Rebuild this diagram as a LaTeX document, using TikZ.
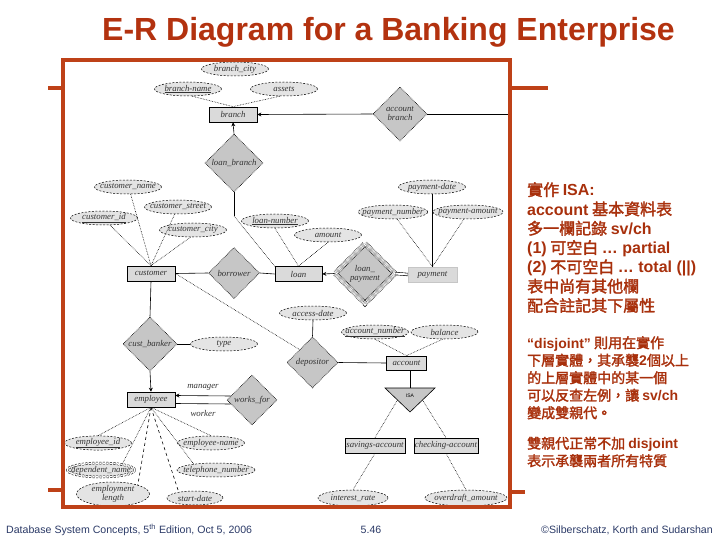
\documentclass[tikz,border=0pt]{standalone}
\usepackage{fontspec}
\newfontfamily\arial{Liberation Sans}
\newfontfamily\erfont{Liberation Serif}
\newfontfamily\cjk[FakeBold=2]{Noto Sans CJK TC}
\newcommand\lat[1]{{\arial\bfseries #1}}
\usetikzlibrary{shapes.geometric,arrows.meta,calc}
\definecolor{frameRed}{HTML}{BE4118}
\definecolor{titleRed}{HTML}{B3320F}
\definecolor{noteRed}{HTML}{A8300C}
\definecolor{footBlue}{HTML}{2B3A67}
\definecolor{entfill}{HTML}{DADADA}
\definecolor{relfill}{HTML}{C6C6C6}
\definecolor{attfill}{HTML}{E4E4E4}
\tikzset{
  er/.style={font=\erfont\itshape\fontsize{8.8}{9}\selectfont, text=black!80, inner sep=0pt, align=center},
  ent/.style={er, rectangle, draw, fill=entfill, line width=0.7pt, minimum width=48pt, minimum height=15pt},
  rel/.style={er, diamond, draw, densely dotted, fill=relfill, line width=0.6pt, aspect=1},
  attr/.style={er, ellipse, draw, fill=attfill, line width=0.5pt, dash pattern=on 2pt off 1.5pt, minimum width=67pt, minimum height=14pt, inner xsep=-6pt},
  ln/.style={line width=0.6pt},
  dl/.style={line width=0.6pt, densely dotted},
  tip/.style={-{Stealth[length=4pt,width=4pt]}, line width=0.6pt},
  note/.style={text=noteRed, anchor=north west, align=left, inner sep=0pt},
  foot/.style={text=footBlue, font=\arial\fontsize{10.6}{12}\selectfont, inner sep=0pt}
}
\begin{document}
\begin{tikzpicture}[x=1pt,y=-1pt]
\useasboundingbox (0,0) rectangle (720,540);
% title
\node (title) [text=titleRed, font=\arial\bfseries\fontsize{32}{36}\selectfont] at (388.5,32) {E-R Diagram for a Banking Enterprise};

% branch
\node[attr] (bcity) at (235,69) {branch\_city};
\node[attr] (bname) at (188,89) {\underline{branch-name}};
\node[attr] (assets) at (284,89) {assets};
\node[ent] (branch) at (233,114.5) {branch};
\node[rel, minimum size=54pt] (acctbr) at (400,114) {account\\branch};
\node[rel, minimum size=58pt] (loanbr) at (234,163) {loan\_branch};
\coordinate (acctR) at (508,114);
\coordinate (lbk) at (234,216);

% customer and loan
\node[attr] (cname) at (128,187) {customer\_name};
\node[attr] (cstreet) at (178,207) {customer\_street};
\node[attr] (cid) at (104,218) {\underline{customer\_id}};
\node[attr] (ccity) at (193,230) {customer\_city};
\node[ent] (customer) at (151,273.5) {customer};
\node[rel, minimum size=51pt] (borrower) at (234,273) {borrower};
\node[attr] (lnum) at (275,221) {\underline{loan-number}};
\node[attr] (amount) at (328,235) {amount};
\node[ent, minimum width=47pt] (loan) at (298.5,274) {loan};
\node[rel, minimum size=60pt, double, double distance=4pt] (lpay) at (365,273.5) {loan\_\\payment};
\node[ent, draw=gray!45, minimum width=49pt] (payment) at (432.5,274.5) {payment};
\node[attr] (pdate) at (432,187) {payment-date};
\node[attr] (pnum) at (393,212) {payment\_number};
\node[attr, minimum width=70pt] (pamt) at (468,212) {payment-amount};

% account
\node[attr] (adate) at (313,313) {access-date};
\node[rel, minimum size=51pt] (depositor) at (312.5,362.5) {depositor};
\node[attr] (anum) at (375,332) {\underline{account\_number}};
\node[attr] (balance) at (444.5,332) {balance};
\node[ent, minimum width=40pt, minimum height=14pt] (account) at (406.5,363) {account};
\draw[ln, fill=relfill] (385,388) -- (435,388) -- (410,412) -- cycle;
\node[font=\arial\fontsize{5}{5}\selectfont, inner sep=0pt] (isa) at (410,396) {ISA};
\coordinate (isaT) at (410,388);
\coordinate (isaL) at (397.5,400);
\coordinate (isaR) at (422.5,400);
\node[ent, minimum width=60pt] (savings) at (375,445.5) {savings-account};
\node[ent, minimum width=64pt] (checking) at (446,445.5) {checking-account};
\node[attr, minimum width=70pt, minimum height=16pt] (irate) at (353,498) {interest\_rate};
\node[attr, minimum width=82pt, minimum height=16pt] (odamt) at (466,498) {overdraft\_amount};

% employee
\node[rel, minimum size=54pt] (custb) at (150,344) {cust\_banker};
\node[attr] (type) at (224,344) {type};
\node[ent] (employee) at (151,399.5) {employee};
\node[rel, minimum size=50pt] (worksfor) at (252,400) {works\_for};
\node[er] (manager) at (203,387) {manager};
\node[er] (worker) at (203,413) {worker};
\node[attr] (eid) at (98,443) {\underline{employee\_id}};
\node[attr] (ename) at (211,443) {employee-name};
\node[attr, double, double distance=1.5pt] (depname) at (101,470) {dependent\_name};
\node[attr, minimum width=78pt] (tel) at (216,470) {telephone\_number};
\node[attr, minimum width=73pt, minimum height=18pt] (emplen) at (113,494) {employment\\length};
\node[attr, minimum width=56pt] (sdate) at (195,498) {start-date};

% links
\draw[dl] (bname.-60) -- (branch.north);
\draw[dl] (assets.-120) -- (branch.north);
\draw[tip] (acctbr.west) -- (branch.east);
\draw[ln] (acctbr.east) -- (acctR);
\draw[tip] (loanbr.north) -- (branch.south);
\draw[ln] (loanbr.south) -- (lbk);
\draw[dl] (lbk) -- (loan.north west);
\draw[dl] (cname.-70) -- (customer.north);
\draw[dl] (cstreet.-115) -- (customer.north);
\draw[dl] (cid.-50) -- (customer.north);
\draw[dl] (ccity.-110) -- (customer.north);
\draw[ln] (customer.east) -- (borrower.west);
\draw[ln] (borrower.east) -- (loan.west);
\draw[ln] (customer.south) -- (custb.north);
\draw[dl] (customer.east) -- (depositor.north west);
\draw[dl] (lnum.south) -- (loan.north);
\draw[dl] (amount.south) -- (loan.north);
\draw[tip] (lpay.west) -- (loan.east);
\draw[ln, double, double distance=2pt] (lpay.east) -- (payment.west);
\draw[ln] (pdate.south) -- (pdate.south |- payment.north);
\draw[dl] (pnum.-60) -- (payment.north);
\draw[dl] (pamt.-120) -- (payment.north);
\draw[ln] (adate.south) -- (depositor.north);
\draw[ln] (depositor.east) -- (account.west);
\draw[dl] (anum.south) -- (account.north);
\draw[dl] (balance.-105) -- (account.north);
\draw[ln] (isaT) -- (isaT |- account.south);
\draw[dl] (isaL) -- (savings.north);
\draw[dl] (isaR) -- (checking.north);
\draw[dl] (savings.south) -- (irate.north);
\draw[dl] (checking.south) -- (odamt.north);
\draw[ln] (custb.east) -- (type.west);
\draw[tip] (custb.south) -- (employee.north);
\draw[tip] ($(worksfor.west)+(4,-4)$) -- ([yshift=4pt]employee.east);
\draw[ln] ($(worksfor.west)+(4,4)$) -- ([yshift=-4pt]employee.east);
\draw[dl] (employee.south) -- (eid.north);
\draw[dl] (employee.south) -- (ename.north);
\draw[dl] (employee.south) -- (depname.15);
\draw[dl] (employee.south) -- (tel.165);
\draw[ln, dashed] (employee.south) -- (emplen.20);
\draw[ln, dashed] (employee.south) -- (sdate.160);

% frame
\draw[frameRed, line width=4pt] (63,60) rectangle (510,507);
\draw[frameRed, line width=4pt] (48,88) -- (63,88) (510,88) -- (548,88) (48,490) -- (63,490) (510,492) -- (525,492);

% notes
\node[note, font=\cjk\fontsize{16}{19.3}\selectfont] (isaNote) at (527,182) {實作 \lat{ISA:}\\\lat{account} 基本資料表\\多一欄記錄 \lat{sv/ch}\\\lat{(1)} 可空白 \lat{\ldots\ partial}\\\lat{(2)} 不可空白 \lat{\ldots\ total (||)}\\表中尚有其他欄\\配合註記其下屬性};
\node[note, font=\cjk\fontsize{14}{17.5}\selectfont] (djNote) at (527,336) {\lat{“disjoint”} 則用在實作\\下層實體，其承襲\lat{2}個以上\\的上層實體中的某一個\\可以反查左例，讓 \lat{sv/ch}\\變成雙親代。\\[13pt]雙親代正常不加 \lat{disjoint}\\表示承襲兩者所有特質};

% footer
\node[foot, anchor=west] (fleft) at (6,530) {Database System Concepts, 5\textsuperscript{th} Edition, Oct 5, 2006};
\node[foot] (fpage) at (371,530) {5.46};
\node[foot, anchor=east] (fright) at (713,530) {©Silberschatz, Korth and Sudarshan};
\end{tikzpicture}
\end{document}
